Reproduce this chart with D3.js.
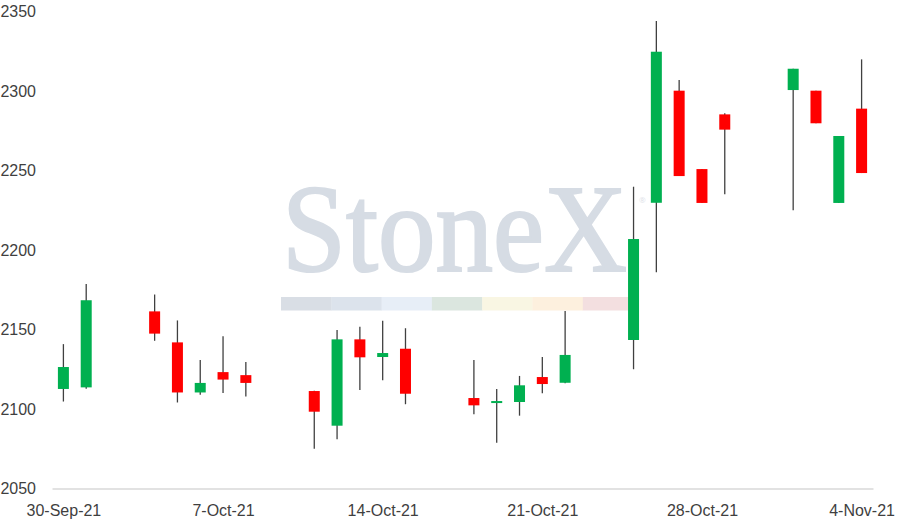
<!DOCTYPE html>
<html>
<head>
<meta charset="utf-8">
<script src="https://cdn.jsdelivr.net/npm/d3@7"></script>
<style>
  body { margin: 0; background: #fff; }
  svg { display: block; font-family: "Open Sans", sans-serif; }
</style>
</head>
<body>
<svg id="chart" width="908" height="529"></svg>
<script>
// daily OHLC
const dates = ["2021-09-30", "2021-10-01", "2021-10-04", "2021-10-05", "2021-10-06", "2021-10-07", "2021-10-08",
  "2021-10-11", "2021-10-12", "2021-10-13", "2021-10-14", "2021-10-15",
  "2021-10-18", "2021-10-19", "2021-10-20", "2021-10-21", "2021-10-22",
  "2021-10-25", "2021-10-26", "2021-10-27", "2021-10-28", "2021-10-29",
  "2021-11-01", "2021-11-02", "2021-11-03", "2021-11-04"];
const opens = [2112.6, 2113.6, 2161.4, 2141.9, 2110.4, 2123.2, 2121.3, 2111.3, 2089.5, 2143.8, 2132.7, 2137.9, 2106.9,
  2103.8, 2104.4, 2120.1, 2116.5, 2143.4, 2229.7, 2300.2, 2250.9, 2285.3, 2300.6, 2300.2, 2229.6, 2288.9];
const highs = [2140.8, 2178.6, 2172.0, 2155.7, 2130.8, 2145.7, 2129.6, 2111.5, 2149.7, 2151.8, 2155.5, 2150.8, 2130.8,
  2112.6, 2120.8, 2132.7, 2161.6, 2239.8, 2344.0, 2306.9, 2250.9, 2286.0, 2314.0, 2300.2, 2271.7, 2319.9];
const lows = [2104.7, 2112.8, 2142.9, 2104.1, 2109.0, 2110.0, 2107.9, 2075.0, 2080.9, 2111.9, 2118.1, 2103.0, 2096.7,
  2078.8, 2095.8, 2109.9, 2116.2, 2125.0, 2186.0, 2246.5, 2229.6, 2235.0, 2225.0, 2279.7, 2229.6, 2248.4];
const closes = [2126.4, 2168.4, 2147.4, 2110.4, 2116.4, 2118.5, 2116.4, 2098.3, 2143.8, 2132.5, 2135.2, 2109.6, 2102.3,
  2105.0, 2114.9, 2115.7, 2134.0, 2206.9, 2324.7, 2246.5, 2229.6, 2275.7, 2314.0, 2279.7, 2271.7, 2248.4];

const xTicks = ["2021-09-30", "2021-10-07", "2021-10-14", "2021-10-21", "2021-10-28", "2021-11-04"];
const yTicks = [2050, 2100, 2150, 2200, 2250, 2300, 2350];

const watermarkColors = ["#d9dee5", "#dce3ec", "#e7eef7", "#dbe6df", "#f9f6e3", "#fdf0de", "#f3dfe0"];

const parse = d3.utcParse("%Y-%m-%d");
const data = dates.map((d, i) => ({
  date: parse(d), open: opens[i], high: highs[i], low: lows[i], close: closes[i]
}));

const svg = d3.select("#chart");
const width = 908, height = 529;
const margin = { top: 11.5, right: 35, bottom: 40.5, left: 52 };

const x = d3.scaleUtc()
  .domain([d3.utcHour.offset(parse("2021-09-30"), -12), d3.utcHour.offset(parse("2021-11-04"), 12)])
  .range([margin.left, width - margin.right]);

const y = d3.scaleLinear()
  .domain([2050, 2350])
  .range([height - margin.bottom, margin.top]);

// watermark
const wm = svg.append("g").attr("class", "watermark");
wm.append("text")
  .attr("x", 282).attr("y", 271)
  .attr("font-family", "Liberation Serif, serif")
  .attr("font-size", 124)
  .attr("textLength", 345)
  .attr("lengthAdjust", "spacingAndGlyphs")
  .attr("fill", "#d6dce4")
  .attr("stroke", "#d6dce4")
  .attr("stroke-width", 2.2)
  .text("StoneX");
wm.append("text")
  .attr("x", 639).attr("y", 203)
  .attr("font-size", 8)
  .attr("fill", "#dde2e8")
  .text("®");
wm.selectAll("rect")
  .data(watermarkColors)
  .join("rect")
  .attr("x", (d, i) => 281 + i * 50.3)
  .attr("y", 297)
  .attr("width", 50.6)
  .attr("height", 13.5)
  .attr("fill", d => d);

// axes
svg.append("g")
  .attr("transform", `translate(0,${y(2050)})`)
  .call(d3.axisBottom(x)
    .tickValues(xTicks.map(parse))
    .tickFormat(d3.utcFormat("%-d-%b-%y"))
    .tickSize(0)
    .tickSizeOuter(0)
    .tickPadding(16))
  .call(g => g.select(".domain").attr("stroke", "#d9d9d9").attr("stroke-width", 1.5))
  .call(g => g.selectAll(".tick text").attr("fill", "#3f3f3f").attr("font-size", 16));

svg.append("g")
  .attr("transform", "translate(44,0)")
  .call(d3.axisLeft(y)
    .tickValues(yTicks)
    .tickFormat(d3.format("d"))
    .tickSize(0)
    .tickPadding(8))
  .call(g => g.select(".domain").remove())
  .call(g => g.selectAll(".tick text").attr("fill", "#3f3f3f").attr("font-size", 16));

// candles
const bw = 11;
const candle = svg.append("g")
  .selectAll("g")
  .data(data)
  .join("g")
  .attr("transform", d => `translate(${x(d.date)},0)`);

candle.append("line")
  .attr("y1", d => y(d.high))
  .attr("y2", d => y(d.low))
  .attr("stroke", "#404040")
  .attr("stroke-width", 1.3);

candle.append("rect")
  .attr("x", -bw / 2)
  .attr("y", d => y(Math.max(d.open, d.close)))
  .attr("width", bw)
  .attr("height", d => Math.max(2, Math.abs(y(d.open) - y(d.close))))
  .attr("fill", d => d.close >= d.open ? "#00b050" : "#ff0000");
</script>
</body>
</html>
